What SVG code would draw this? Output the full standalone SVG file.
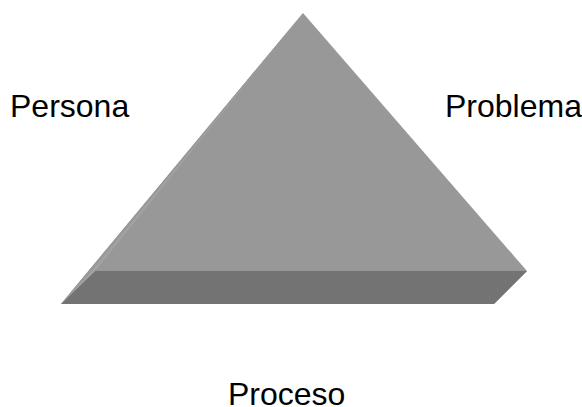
<svg xmlns="http://www.w3.org/2000/svg" width="582" height="407" viewBox="0 0 582 407">
<style>
.lbl{font-family:"Liberation Sans",Arial,sans-serif;font-size:32px;fill:#000}
</style>
<rect width="582" height="407" fill="#fff"/>
<g id="pyramid">
<polygon points="303,13 527,271 494,304 61,304" fill="#989898"/>
<polygon points="95,271 527,271 494,304 61,304" fill="#737373"/>
<polygon points="61,304 303,13 95,271" fill="#a3a3a3"/>
<polygon points="61,304 303,13 92,271" fill="#999999"/>
</g>
<g id="label-persona"><text class="lbl" x="10" y="117">Persona</text></g>
<g id="label-problema"><text class="lbl" x="445" y="117">Problema</text></g>
<g id="label-proceso"><text class="lbl" x="228" y="405">Proceso</text></g>
<g id="connectors"></g>
</svg>
